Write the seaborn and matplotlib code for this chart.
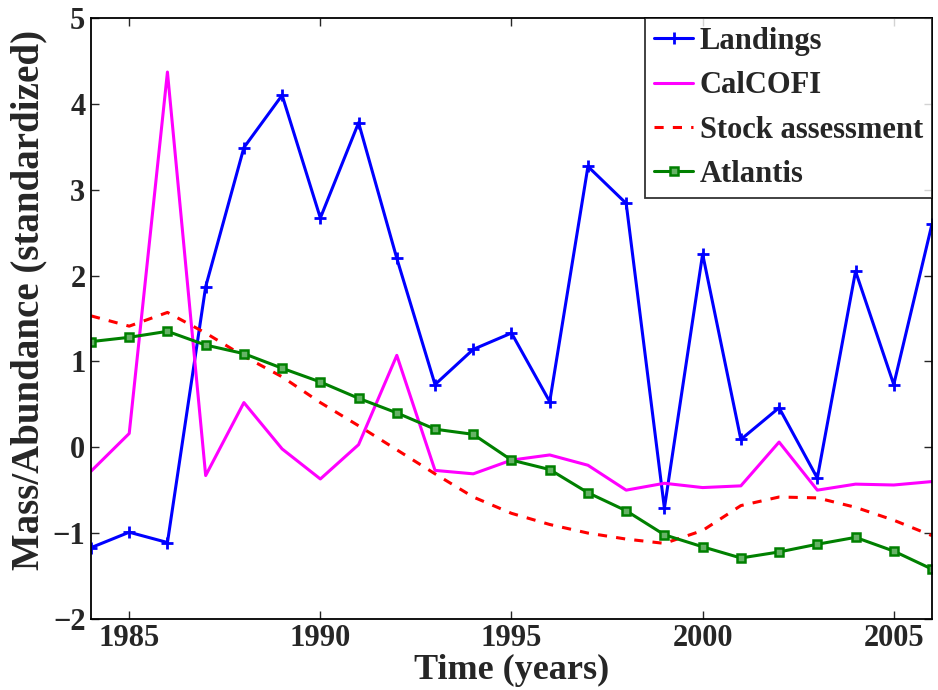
import numpy as np
import pandas as pd
import seaborn as sns
import matplotlib.pyplot as plt

years = list(range(1984, 2007))

landings = [-1.17, -0.99, -1.11, 1.87, 3.49, 4.10, 2.67, 3.78, 2.20, 0.73, 1.14, 1.33,
            0.53, 3.27, 2.84, -0.71, 2.25, 0.09, 0.46, -0.36, 2.05, 0.73, 2.60]
calcofi = [-0.28, 0.16, 4.37, -0.33, 0.52, -0.02, -0.37, 0.03, 1.07, -0.27, -0.31, -0.15,
           -0.09, -0.21, -0.50, -0.42, -0.47, -0.45, 0.06, -0.50, -0.43, -0.44, -0.40]
stock = [1.53, 1.41, 1.57, 1.33, 1.06, 0.82, 0.52, 0.25, -0.03, -0.31, -0.58, -0.77,
         -0.90, -1.00, -1.07, -1.12, -0.97, -0.68, -0.58, -0.59, -0.70, -0.85, -1.03]
atlantis = [1.23, 1.28, 1.35, 1.19, 1.09, 0.92, 0.76, 0.57, 0.40, 0.21, 0.15, -0.15,
            -0.26, -0.53, -0.74, -1.02, -1.16, -1.29, -1.22, -1.13, -1.05, -1.21, -1.42]

sns.set_style("ticks")
plt.rcParams['font.family'] = ['Liberation Serif', 'DejaVu Serif']
plt.rcParams['font.weight'] = 'bold'

fig = plt.figure(figsize=(9.38, 6.9), dpi=100)
ax = fig.add_axes([0.097, 0.103, 0.8966, 0.871])

sns.lineplot(x=years, y=landings, color='#0000ff', lw=2.2, marker='+', markersize=8,
             markeredgewidth=2, markeredgecolor='#0000ff', label='Landings', ax=ax)
sns.lineplot(x=years, y=calcofi, color='#ff00ff', lw=2.2, label='CalCOFI', ax=ax)
sns.lineplot(x=years, y=stock, color='#ff0000', lw=2.2, label='Stock assessment', ax=ax)
ax.lines[-1].set_linestyle((0, (3, 3)))
sns.lineplot(x=years, y=atlantis, color='#008000', lw=2.2, marker='s', markersize=5.5,
             markerfacecolor='#66b366', markeredgecolor='#008000', markeredgewidth=1.8,
             label='Atlantis', ax=ax)

ax.set_xlim(1984, 2006)
ax.set_ylim(-2, 5)
ax.set_xticks([1985, 1990, 1995, 2000, 2005])
ax.set_yticks(range(-2, 6))
ax.set_yticklabels(['\u22122', '\u22121', '0', '1', '2', '3', '4', '5'])
ax.tick_params(direction='in', top=True, right=True, labelsize=22, length=6, width=1, pad=4)
for s in ax.spines.values():
    s.set_linewidth(1.3)
    s.set_color('black')

ax.set_xlabel('Time (years)', fontsize=26, fontweight='bold', labelpad=0)
ax.set_ylabel('Mass/Abundance (standardized)', fontsize=28, fontweight='bold')
ax.yaxis.set_label_coords(-0.052, 0.53)

leg = ax.legend(loc='upper right', fontsize=22, frameon=True, fancybox=False,
                borderaxespad=0, handlelength=1.3, handletextpad=0.2,
                labelspacing=0.5, borderpad=0.3)
leg.get_frame().set_edgecolor('black')
leg.get_frame().set_linewidth(1.3)
for t in leg.get_texts():
    t.set_fontweight('bold')

fig.savefig('out.png', dpi=100)
